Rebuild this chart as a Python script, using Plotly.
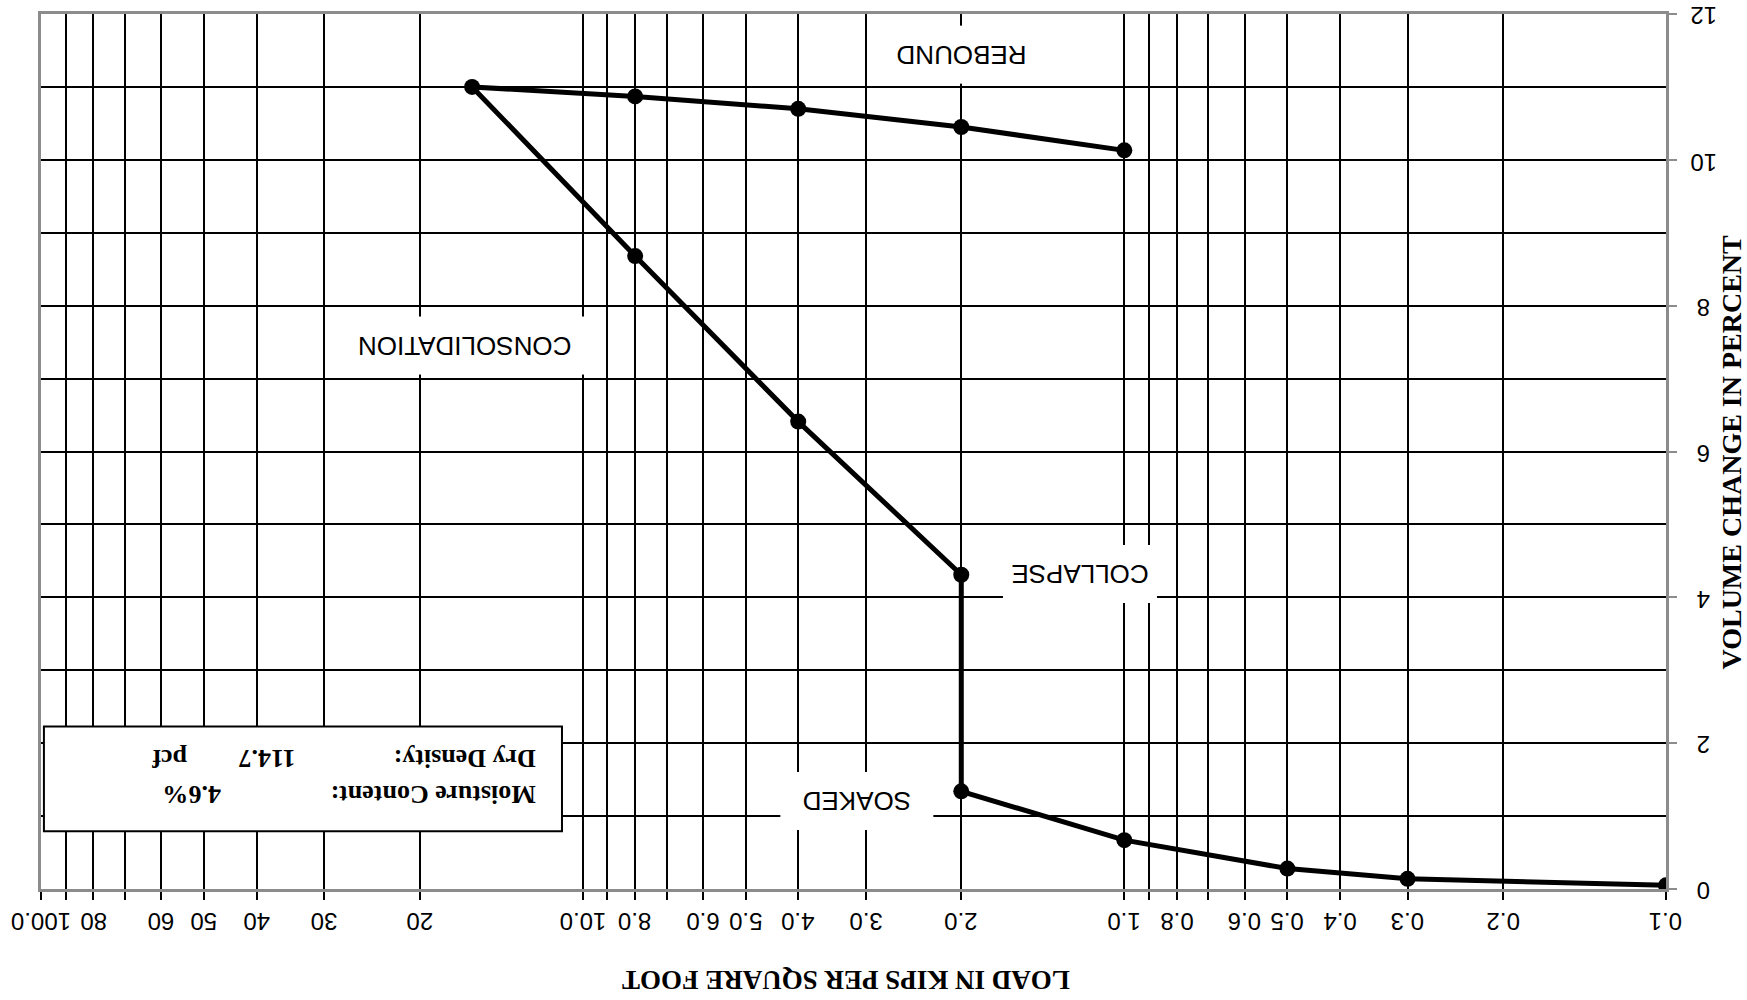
import math
import plotly.graph_objects as go

# ---- data ----
load_ksf = [0.1, 0.3, 0.5, 1.0, 2.0, 2.0, 4.0, 8.0, 16.0, 8.0, 4.0, 2.0, 1.0]
volume_change = [0.05, 0.14, 0.28, 0.67, 1.34, 4.31, 6.41, 8.68, 11.0, 10.87, 10.70, 10.45, 10.13]

x_tick_vals = [0.1, 0.2, 0.3, 0.4, 0.5, 0.6, 0.8, 1, 2, 3, 4, 5, 6, 8, 10, 20, 30, 40, 50, 60, 80, 100]
x_tick_text = ["0.1", "0.2", "0.3", "0.4", "0.5", "0.6", "0.8", "1.0", "2.0", "3.0", "4.0", "5.0",
               "6.0", "8.0", "10.0", "20", "30", "40", "50", "60", "80", "100.0"]
x_minor_vals = [0.7, 0.9, 7, 9, 70, 90]
y_tick_vals = [0, 2, 4, 6, 8, 10, 12]
y_tick_text = ["0", "2", "4", "6", "8", "10", "12"]

stage_labels = ["REBOUND", "CONSOLIDATION", "COLLAPSE", "SOAKED"]
stage_x = [2.0, 16.5, 1.21, 3.12]
stage_y = [11.44, 7.45, 4.32, 1.20]
stage_w = [150, 240, 154, 153]

x_title = "LOAD IN KIPS PER SQUARE FOOT"
y_title = "VOLUME CHANGE IN PERCENT"
info_labels = ["Moisture Content:", "Dry Density:"]
info_values = ["4.6%", "114.7"]
info_units = ["", "pcf"]

SANS = "Liberation Sans, Arial, sans-serif"
SERIF = "Liberation Serif, Times New Roman, serif"

fig = go.Figure()
fig.add_trace(go.Scatter(
    x=load_ksf, y=volume_change, mode="lines+markers",
    line=dict(color="black", width=5),
    marker=dict(color="black", size=16),
    showlegend=False, hoverinfo="x+y",
))

annotations = []
for t, x, y, w in zip(stage_labels, stage_x, stage_y, stage_w):
    annotations.append(dict(
        x=math.log10(x), y=y, xref="x", yref="y", text=t, showarrow=False,
        textangle=180, font=dict(family=SANS, size=26, color="black"),
        bgcolor="white", width=w, height=58, borderpad=0, borderwidth=0,
        xanchor="center", yanchor="middle",
    ))

# upside-down tick labels
for v, t in zip(x_tick_vals, x_tick_text):
    annotations.append(dict(
        x=math.log10(v), y=-0.0364, xref="x", yref="paper", text=t, showarrow=False,
        textangle=180, font=dict(family=SANS, size=24, color="black"),
        xanchor="center", yanchor="middle",
    ))
for v, t in zip(y_tick_vals, y_tick_text):
    annotations.append(dict(
        x=1.0234, y=v, xref="paper", yref="y", text=t, showarrow=False,
        textangle=180, font=dict(family=SANS, size=24, color="black"),
        xanchor="center", yanchor="middle", yshift=-2,
    ))

# axis titles
annotations.append(dict(
    x=0.495, y=-0.104, xref="paper", yref="paper", text="<b>" + x_title + "</b>",
    showarrow=False, textangle=180, font=dict(family=SERIF, size=27, color="black"),
    xanchor="center", yanchor="middle",
))
annotations.append(dict(
    x=1.0406, y=0.5, xref="paper", yref="paper", text="<b>" + y_title + "</b>",
    showarrow=False, textangle=-90, font=dict(family=SERIF, size=28, color="black"),
    xanchor="center", yanchor="middle",
))

# info box texts
info_y = [0.108, 0.150]
for lab, yy in zip(info_labels, info_y):
    annotations.append(dict(x=0.3058, y=yy, xref="paper", yref="paper", text="<b>" + lab + "</b>",
                            showarrow=False, textangle=180, xanchor="right", yanchor="middle",
                            font=dict(family=SERIF, size=26, color="black")))
for val, xx, yy in zip(info_values, [0.112, 0.158], info_y):
    annotations.append(dict(x=xx, y=yy, xref="paper", yref="paper", text="<b>" + val + "</b>",
                            showarrow=False, textangle=180, xanchor="right", yanchor="middle",
                            font=dict(family=SERIF, size=26, color="black")))
for unit, yy in zip(info_units, info_y):
    if unit:
        annotations.append(dict(x=0.0911, y=yy, xref="paper", yref="paper", text="<b>" + unit + "</b>",
                                showarrow=False, textangle=180, xanchor="right", yanchor="middle",
                                font=dict(family=SERIF, size=26, color="black")))

fig.update_layout(
    width=1747, height=1000,
    margin=dict(l=41, r=81, t=11, b=111),
    paper_bgcolor="white", plot_bgcolor="white",
    annotations=annotations,
    shapes=[dict(type="rect", xref="paper", yref="paper", x0=0.0018, x1=0.3206, y0=0.0661, y1=0.1856,
                 fillcolor="white", line=dict(color="black", width=2), layer="above")],
    xaxis=dict(
        type="log", range=[2, -1],
        tickmode="array", tickvals=x_tick_vals, showticklabels=False,
        ticks="outside", ticklen=8, tickwidth=2, tickcolor="black",
        showgrid=True, gridcolor="black", gridwidth=2,
        minor=dict(tickmode="array", tickvals=x_minor_vals, showgrid=True, gridcolor="black",
                   gridwidth=2, ticks="outside", ticklen=8, tickwidth=2, tickcolor="black"),
        showline=True, linecolor="#8c8c8c", linewidth=3, mirror=True,
        zeroline=False,
    ),
    yaxis=dict(
        side="right", range=[0, 12],
        tickmode="array", tickvals=y_tick_vals, showticklabels=False,
        ticks="outside", ticklen=8, tickwidth=2, tickcolor="#8c8c8c",
        showgrid=True, gridcolor="black", gridwidth=2,
        minor=dict(dtick=1, showgrid=True, gridcolor="black", gridwidth=2),
        showline=True, linecolor="#8c8c8c", linewidth=3, mirror=True,
        zeroline=False,
    ),
)

fig.write_html("out.html")
